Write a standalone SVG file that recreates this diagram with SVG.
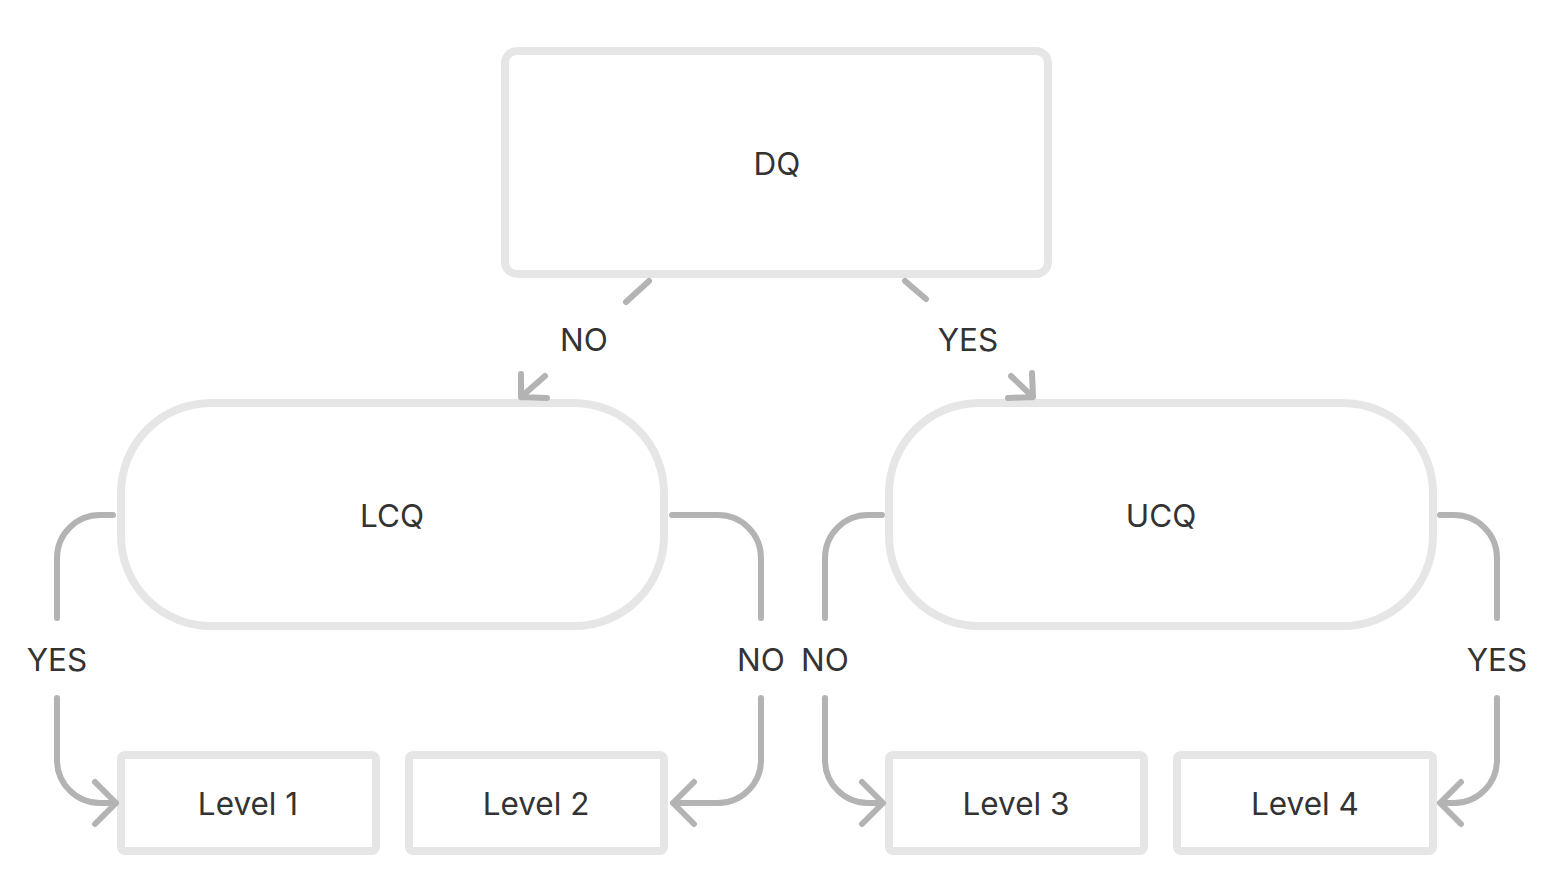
<svg xmlns="http://www.w3.org/2000/svg" width="1561" height="891" viewBox="0 0 1561 891">
<style>
.node{fill:#ffffff;stroke:#e6e6e6;stroke-width:8}
.lbl{font-family:Inter,"Noto Sans","Liberation Sans",sans-serif;font-size:31.5px;fill:#333333;text-anchor:middle}
.edge{fill:none;stroke:#b3b3b3;stroke-width:6;stroke-linecap:round;stroke-linejoin:round}
</style>
<rect width="1561" height="891" fill="#ffffff"/>
<g id="DQ"><rect class="node" x="505" y="51" width="543" height="223" rx="12"/><text class="lbl" x="777" y="174.5">DQ</text></g>
<g id="LCQ"><rect class="node" x="121" y="403" width="543" height="223" rx="90"/><text class="lbl" x="392" y="526.5">LCQ</text></g>
<g id="UCQ"><rect class="node" x="889" y="403" width="544" height="223" rx="90"/><text class="lbl" x="1161" y="526.5">UCQ</text></g>
<g id="Level1"><rect class="node" x="121" y="755" width="255" height="96" rx="4"/><text class="lbl" x="248" y="814.5">Level 1</text></g>
<g id="Level2"><rect class="node" x="409" y="755" width="255" height="96" rx="4"/><text class="lbl" x="536" y="814.5">Level 2</text></g>
<g id="Level3"><rect class="node" x="889" y="755" width="255" height="96" rx="4"/><text class="lbl" x="1016" y="814.5">Level 3</text></g>
<g id="Level4"><rect class="node" x="1177" y="755" width="256" height="96" rx="4"/><text class="lbl" x="1305" y="814.5">Level 4</text></g>
<g id="connectors">
<path class="edge" d="M649,281 L626,302 M545,376 L521,397 M521,374 L521,397 L547,398"/>
<text class="lbl" x="584" y="351">NO</text>
<path class="edge" d="M905,281 L926,299 M1011,376 L1033,397 M1032,373 L1033,397 L1008,398"/>
<text class="lbl" x="968" y="351">YES</text>
<path class="edge" d="M113,515 L100,515 A43,43 0 0 0 57,558 L57,618 M57,698 L57,760 A43,43 0 0 0 100,803 L116,803 M95,782 L116,803 L95,824"/>
<text class="lbl" x="57" y="671">YES</text>
<path class="edge" d="M672,515 L718,515 A43,43 0 0 1 761,558 L761,618 M761,698 L761,760 A43,43 0 0 1 718,803 L673,803 M694,782 L673,803 L694,824"/>
<text class="lbl" x="761" y="671">NO</text>
<path class="edge" d="M882,515 L868,515 A43,43 0 0 0 825,558 L825,618 M825,698 L825,760 A43,43 0 0 0 868,803 L883,803 M862,782 L883,803 L862,824"/>
<text class="lbl" x="825" y="671">NO</text>
<path class="edge" d="M1440,515 L1454,515 A43,43 0 0 1 1497,558 L1497,618 M1497,698 L1497,760 A43,43 0 0 1 1454,803 L1440,803 M1461,782 L1440,803 L1461,824"/>
<text class="lbl" x="1497" y="671">YES</text>
</g>
</svg>
